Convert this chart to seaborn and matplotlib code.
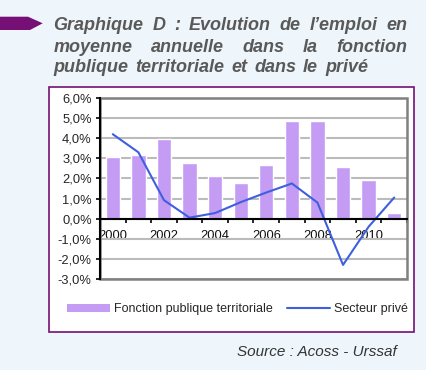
import matplotlib
matplotlib.use("Agg")
import matplotlib.pyplot as plt
import seaborn as sns
import pandas as pd
from matplotlib.patches import Rectangle, Polygon
from matplotlib.lines import Line2D
from matplotlib.ticker import FixedLocator

# data (annual % change in employment)
years = [2000, 2001, 2002, 2003, 2004, 2005, 2006, 2007, 2008, 2009, 2010, 2011]
fpt = [3.05, 3.15, 3.95, 2.77, 2.13, 1.77, 2.67, 4.85, 4.85, 2.58, 1.92, 0.28]
prive = [4.2, 3.3, 0.92, 0.05, 0.28, 0.82, 1.3, 1.75, 0.8, -2.3, -0.4, 1.05]
year_labels = [str(y) if y % 2 == 0 else "" for y in years]
y_ticks = [-3, -2, -1, 0, 1, 2, 3, 4, 5, 6]

title_lines = ["Graphique D : Evolution de l\u2019emploi en",
               "moyenne annuelle dans la fonction",
               "publique territoriale et dans le privé"]
label_fpt = "Fonction publique territoriale"
label_prive = "Secteur privé"
source = "Source : Acoss - Urssaf"

BG = "#EEF6FC"
BAR = "#C49CF4"
LINE = "#3F5FDF"
PURPLE = "#760F76"
W, H = 426, 370

sns.set_theme(style="white")
plt.rcParams["font.family"] = ["Liberation Sans", "DejaVu Sans"]

df = pd.DataFrame({"annee": [str(y) for y in years], "fpt": fpt, "prive": prive})

fig = plt.figure(figsize=(W / 100, H / 100), dpi=100, facecolor=BG)

def px(x, y):
    # pixel coords (top-left origin) -> figure fraction
    return x / W, 1 - y / H

# purple arrow next to the title
arrow = [(0, 16.7), (28, 16.7), (42.7, 23.3), (30, 30), (0, 30)]
fig.patches.append(Polygon([px(*p) for p in arrow], closed=True, transform=fig.transFigure,
                           facecolor=PURPLE, edgecolor="none", zorder=-2))

# white chart box with purple border
x0, y0 = px(49, 331.5)
x1, y1 = px(414, 87.3)
fig.patches.append(Rectangle((x0, y0), x1 - x0, y1 - y0, transform=fig.transFigure,
                             facecolor="white", edgecolor=PURPLE, lw=1.2, zorder=-2))

# justified title (last line a bit shorter, as in the source)
renderer = fig.canvas.get_renderer()
tkw = dict(fontsize=13, fontweight="bold", fontstyle="italic", color="#595959", va="baseline")
baselines = [30.5, 51.5, 72.0]
line_ends = [407, 407, 368]
for line, yb, xe in zip(title_lines, baselines, line_ends):
    words = line.split(" ")
    txts = [fig.text(0, px(0, yb)[1], w, **tkw) for w in words]
    widths = [t.get_window_extent(renderer).width for t in txts]
    gap = (xe - 53.5 - sum(widths)) / (len(words) - 1)
    xx = 53.5
    for t, wd in zip(txts, widths):
        t.set_x(xx / W)
        xx += wd + gap

# plot area
ax = fig.add_axes([100 / W, 1 - 279 / H, 307 / W, 181 / H])
ax.set_facecolor("white")
sns.barplot(data=df, x="annee", y="fpt", color=BAR, width=0.56, saturation=1, ax=ax, zorder=2)
sns.pointplot(data=df, x="annee", y="prive", color=LINE, marker="", linestyle="-",
              linewidth=1.5, ax=ax, zorder=3)

ax.set_xlim(-0.5, len(years) - 0.5)
ax.set_ylim(min(y_ticks), max(y_ticks))
ax.set_yticks(y_ticks)
ax.set_yticklabels([f"{v:.1f}%".replace(".", ",") for v in y_ticks])
ax.set_xticks(range(len(years)))
ax.set_xticklabels(year_labels)
ax.xaxis.set_minor_locator(FixedLocator([k + 0.5 for k in range(len(years))]))
ax.set_xlabel("")
ax.set_ylabel("")

ax.yaxis.grid(True, color="#BBBBBB", lw=1.5)
ax.xaxis.grid(False)
ax.set_axisbelow(True)

for s in ["top", "right"]:
    ax.spines[s].set_visible(False)
ax.spines["left"].set_color("black")
ax.spines["left"].set_linewidth(1.5)
ax.spines["bottom"].set_position(("data", 0))
ax.spines["bottom"].set_color("black")
ax.spines["bottom"].set_linewidth(1.5)
ax.spines["bottom"].set_zorder(4)
ax.add_patch(Rectangle((0, 0), 1, 1, transform=ax.transAxes, fill=False,
                       edgecolor="#808080", lw=1.8, clip_on=False, zorder=1))

ax.tick_params(axis="y", which="major", direction="out", length=3, width=1.2,
               color="black", labelsize=9.3, pad=3, left=True)
ax.tick_params(axis="x", which="major", length=0, labelsize=9.3, pad=8.5, colors="#111111")
ax.tick_params(axis="x", which="minor", direction="out", length=3, width=1.2,
               color="black", bottom=True)

# legend
handles = [Rectangle((0, 0), 1, 1, facecolor=BAR, edgecolor="none"),
           Line2D([], [], color=LINE, lw=1.5)]
fig.legend(handles, [label_fpt, label_prive], loc="center", bbox_to_anchor=(*px(237.5, 309),),
           ncol=2, frameon=False, fontsize=9, handlelength=3.4, handleheight=0.6,
           handletextpad=0.3, columnspacing=1.2)

fig.text(*px(397, 352), source, ha="right", va="center", fontsize=11,
         fontstyle="italic", color="#333333")

fig.savefig("out.png", dpi=100, facecolor=BG)
